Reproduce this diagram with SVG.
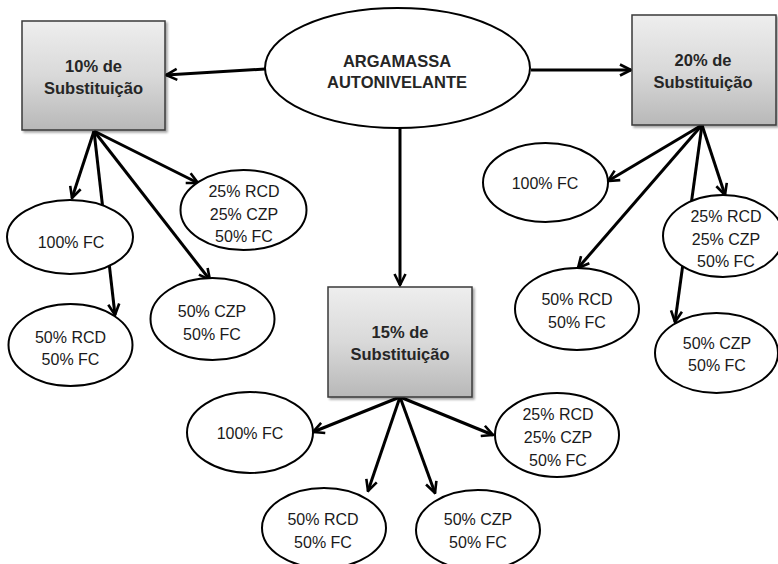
<svg xmlns="http://www.w3.org/2000/svg" width="778" height="564" viewBox="0 0 778 564">
<style>
  .conn line { stroke: #000; stroke-width: 3; fill: none; }
  .arr { marker-end: url(#ah); }
  .box { fill: url(#gbox); stroke: #3a3a3a; stroke-width: 1.5; filter: url(#sh); }
  .ell { fill: #fff; stroke: #000; stroke-width: 2; }
  .t { font-family: "Liberation Sans", Arial, sans-serif; font-size: 16px; fill: #1a1a1a; text-anchor: middle; }
  .b { font-family: "Liberation Sans", Arial, sans-serif; font-size: 16.5px; font-weight: bold; fill: #262626; text-anchor: middle; }
</style>
<defs>
  <linearGradient id="gbox" x1="0" y1="0" x2="0" y2="1">
    <stop offset="0" stop-color="#eeeeee"/>
    <stop offset="0.5" stop-color="#d9d9d9"/>
    <stop offset="1" stop-color="#b8b8b8"/>
  </linearGradient>
  <filter id="sh" x="-10%" y="-10%" width="125%" height="125%">
    <feDropShadow dx="2" dy="2" stdDeviation="1.2" flood-color="#000" flood-opacity="0.35"/>
  </filter>
  <marker id="ah" viewBox="0 0 14 14" refX="12.5" refY="7" markerWidth="14" markerHeight="14" markerUnits="userSpaceOnUse" orient="auto">
    <path d="M1.5,1.5 L12.5,7 L1.5,12.5" fill="none" stroke="#000" stroke-width="2.6" stroke-linejoin="miter"/>
  </marker>
</defs>
<rect width="778" height="564" fill="#fff"/>

<g id="connectors" class="conn">
  <line class="arr" x1="265" y1="69" x2="166" y2="75"/>
  <line class="arr" x1="531" y1="70" x2="631" y2="70"/>
  <line class="arr" x1="400" y1="128" x2="400" y2="285"/>
  <line class="arr" x1="94" y1="131" x2="72" y2="198"/>
  <line class="arr" x1="94" y1="131" x2="115" y2="315"/>
  <line class="arr" x1="94" y1="131" x2="198" y2="183"/>
  <line class="arr" x1="94" y1="131" x2="210" y2="280"/>
  <line class="arr" x1="702" y1="125" x2="608" y2="181"/>
  <line class="arr" x1="702" y1="125" x2="725" y2="195"/>
  <line class="arr" x1="702" y1="125" x2="578" y2="268"/>
  <line class="arr" x1="702" y1="125" x2="675" y2="322"/>
  <line class="arr" x1="400" y1="397" x2="313" y2="432"/>
  <line class="arr" x1="400" y1="397" x2="493" y2="435"/>
  <line class="arr" x1="400" y1="397" x2="368" y2="491"/>
  <line class="arr" x1="400" y1="397" x2="435" y2="493"/>
</g>

<g id="main">
  <ellipse class="ell" cx="397.5" cy="68" rx="132.5" ry="60"/>
  <text class="b" x="397" y="67">ARGAMASSA</text>
  <text class="b" x="397" y="88">AUTONIVELANTE</text>
</g>

<g id="box10">
  <rect class="box" x="22" y="21" width="143" height="109"/>
  <text class="b" x="93.5" y="72">10% de</text>
  <text class="b" x="93.5" y="94">Substituição</text>
</g>
<g id="box20">
  <rect class="box" x="632" y="15" width="144" height="110"/>
  <text class="b" x="703" y="66">20% de</text>
  <text class="b" x="703" y="88">Substituição</text>
</g>
<g id="box15">
  <rect class="box" x="328" y="287" width="144" height="110"/>
  <text class="b" x="400" y="338">15% de</text>
  <text class="b" x="400" y="360">Substituição</text>
</g>

<!-- 10% children -->
<g id="n10-100fc">
  <ellipse class="ell" cx="70" cy="237" rx="63" ry="37"/>
  <text class="t" x="71" y="248">100% FC</text>
</g>
<g id="n10-rcdczp">
  <ellipse class="ell" cx="243.5" cy="210" rx="63" ry="40"/>
  <text class="t" x="244" y="197">25% RCD</text>
  <text class="t" x="244" y="220">25% CZP</text>
  <text class="t" x="244" y="242">50% FC</text>
</g>
<g id="n10-czp">
  <ellipse class="ell" cx="212.5" cy="319" rx="62" ry="41"/>
  <text class="t" x="212" y="317">50% CZP</text>
  <text class="t" x="212" y="340">50% FC</text>
</g>
<g id="n10-rcd">
  <ellipse class="ell" cx="70.5" cy="345" rx="62" ry="41"/>
  <text class="t" x="70.5" y="343">50% RCD</text>
  <text class="t" x="70.5" y="365">50% FC</text>
</g>

<!-- 20% children -->
<g id="n20-100fc">
  <ellipse class="ell" cx="545.5" cy="182.5" rx="62.5" ry="39.5"/>
  <text class="t" x="545" y="189">100% FC</text>
</g>
<g id="n20-rcdczp">
  <ellipse class="ell" cx="723" cy="236" rx="60" ry="41"/>
  <text class="t" x="726" y="222">25% RCD</text>
  <text class="t" x="726" y="245">25% CZP</text>
  <text class="t" x="726" y="267">50% FC</text>
</g>
<g id="n20-rcd">
  <ellipse class="ell" cx="577" cy="309" rx="62" ry="41"/>
  <text class="t" x="577" y="305">50% RCD</text>
  <text class="t" x="577" y="328">50% FC</text>
</g>
<g id="n20-czp">
  <ellipse class="ell" cx="716.5" cy="353" rx="61.5" ry="40"/>
  <text class="t" x="717" y="349">50% CZP</text>
  <text class="t" x="717" y="371">50% FC</text>
</g>

<!-- 15% children -->
<g id="n15-100fc">
  <ellipse class="ell" cx="250" cy="432.5" rx="63" ry="40.5"/>
  <text class="t" x="250" y="439">100% FC</text>
</g>
<g id="n15-rcdczp">
  <ellipse class="ell" cx="557" cy="435" rx="62" ry="42"/>
  <text class="t" x="558" y="420">25% RCD</text>
  <text class="t" x="558" y="443">25% CZP</text>
  <text class="t" x="558" y="466">50% FC</text>
</g>
<g id="n15-rcd">
  <ellipse class="ell" cx="324" cy="528" rx="62" ry="40"/>
  <text class="t" x="323" y="525">50% RCD</text>
  <text class="t" x="323" y="548">50% FC</text>
</g>
<g id="n15-czp">
  <ellipse class="ell" cx="478" cy="530" rx="62" ry="40"/>
  <text class="t" x="478" y="525">50% CZP</text>
  <text class="t" x="478" y="548">50% FC</text>
</g>
</svg>
